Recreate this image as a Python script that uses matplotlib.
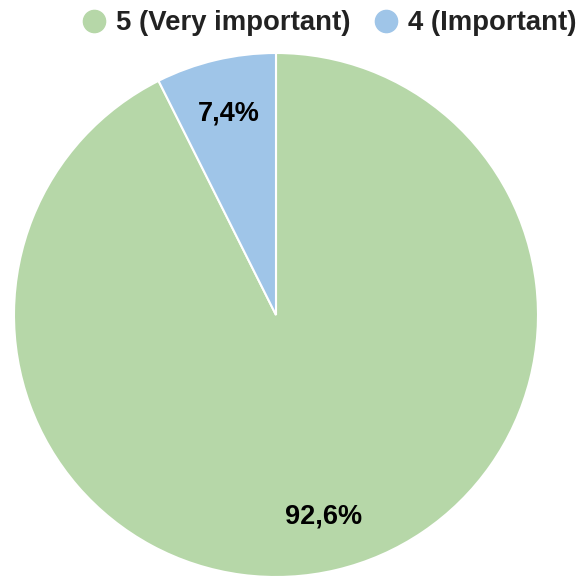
import numpy as np
import matplotlib.pyplot as plt
from matplotlib.lines import Line2D

# data
labels = ["5 (Very important)", "4 (Important)"]
values = [92.6, 7.4]
colors = ["#b6d7a8", "#9fc5e8"]
pct_labels = ["92,6%", "7,4%"]

plt.rcParams["font.family"] = ["Liberation Sans", "DejaVu Sans"]

fig = plt.figure(figsize=(5.81, 5.76), dpi=100)
# pie centre ~ (276, 315) px, radius ~262 px
ax = fig.add_axes([14 / 581, -1 / 576, 524 / 581, 524 / 576])

ax.pie(values, colors=colors, startangle=90, counterclock=False, radius=1,
       wedgeprops=dict(edgecolor="white", linewidth=1.5))
ax.set_xlim(-1, 1)
ax.set_ylim(-1, 1)
ax.set_aspect("equal")

# percentage labels at mid-angle of each slice
start = 90
for v, t in zip(values, pct_labels):
    mid = np.deg2rad(start - v / 2 * 3.6)
    ax.text(0.79 * np.cos(mid), 0.79 * np.sin(mid), t, ha="center", va="center",
            fontsize=19.5, fontweight="bold", color="black")
    start -= v * 3.6

handles = [Line2D([], [], marker="o", linestyle="none", markersize=16,
                  markerfacecolor=c, markeredgecolor=c) for c in colors]
fig.legend(handles, labels, loc="upper right", bbox_to_anchor=(1.035, 1.025),
           ncol=2, frameon=False, handletextpad=0.25, columnspacing=0.75,
           handlelength=1.1, prop=dict(size=19.8, weight="bold"), labelcolor="#222222")

fig.savefig("out.png", dpi=100)
